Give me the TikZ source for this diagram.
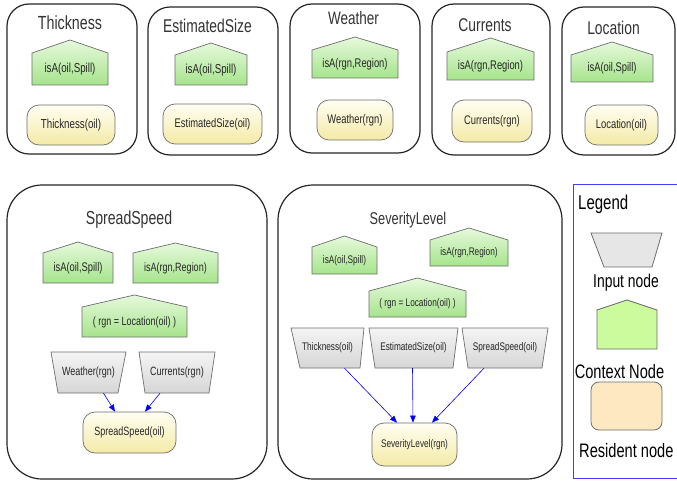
\documentclass[tikz,border=0pt]{standalone}
\usepackage{fontspec}
\setmainfont{Liberation Sans}
\newfontfamily\nf[FakeStretch=0.75]{Liberation Sans}
\usetikzlibrary{arrows.meta}
\definecolor{ctxtop}{HTML}{E6F9DC}
\definecolor{ctxbot}{HTML}{A6E48C}
\definecolor{restop}{HTML}{FFFEF2}
\definecolor{resbot}{HTML}{F4EAA6}
\definecolor{inptop}{HTML}{F4F4F4}
\definecolor{inpbot}{HTML}{D6D6D6}
\definecolor{nodeborder}{HTML}{6E6E6E}
\definecolor{legctx}{HTML}{CCFB9E}
\definecolor{legres}{HTML}{FDE8C2}
\definecolor{leginp}{HTML}{E6E6E6}
\definecolor{legblue}{HTML}{4040F0}
\definecolor{txt}{HTML}{262626}
\newcommand{\myfs}[1]{\fontsize{#1}{#1}\selectfont}
\tikzset{
  panel/.style={draw=black!85, line width=1.2pt, rounded corners=#1},
  ctxshape/.style={draw=nodeborder, line width=0.7pt, top color=ctxtop, bottom color=ctxbot},
  inpshape/.style={draw=nodeborder, line width=0.7pt, top color=inptop, bottom color=inpbot},
  resshape/.style={draw=nodeborder, line width=0.7pt, top color=restop, bottom color=resbot, rounded corners=12pt, inner sep=0pt, text=txt},
  lbl/.style={inner sep=0pt, text=txt},
  ttl/.style={inner sep=0pt, anchor=base, text=black!80, font=\nf\myfs{#1}},
  dep/.style={draw=blue, line width=0.6pt, -{Triangle[length=7pt,width=5.5pt]}},
}
\newcommand{\ctx}[8]{%
  \path[ctxshape] (#2,#6) -- (#2,#5) -- ({(#2+#3)/2},#4) -- (#3,#5) -- (#3,#6) -- cycle;
  \node[lbl, font=\nf\myfs{#8}] (#1) at ({(#2+#3)/2},{(#5+#6)/2}) {#7};}
\newcommand{\inp}[9]{%
  \path[inpshape] (#2,#6) -- (#3,#6) -- (#5,#7) -- (#4,#7) -- cycle;
  \node[lbl, font=\nf\myfs{#9}, minimum width={#5-#4}, minimum height={#7-#6}] (#1) at ({(#2+#3)/2},{(#6+#7)/2}) {#8};}
\newcommand{\res}[7]{%
  \node[resshape, font=\nf\myfs{#7}, minimum width={#3-#2}, minimum height={#5-#4}] (#1) at ({(#2+#3)/2},{(#4+#5)/2}) {#6};}
\begin{document}
\begin{tikzpicture}[x=1pt, y=-1pt]
\useasboundingbox (0,0) rectangle (677,481);
\fill[white] (0,0) rectangle (677,481);
% ---------- top row panels ----------
\draw[panel=22pt] (7,4) rectangle (137,154);
\draw[panel=22pt] (148,7) rectangle (278,155);
\draw[panel=22pt] (290,4) rectangle (420,153);
\draw[panel=22pt] (432,4) rectangle (550,155);
\draw[panel=22pt] (562,7) rectangle (675,155);
\node[ttl=19] (t1) at (70,30) {Thickness};
\node[ttl=18.5] (t2) at (207.5,33) {EstimatedSize};
\node[ttl=18] (t3) at (353.5,25) {Weather};
\node[ttl=18.5] (t4) at (485,32) {Currents};
\node[ttl=18.5] (t5) at (613.5,35) {Location};
\ctx{c1}{32}{108}{40}{53}{85}{isA(oil,Spill)}{13}
\ctx{c2}{175}{247}{43}{55}{85}{isA(oil,Spill)}{13}
\ctx{c3}{312}{398}{37}{50}{78}{isA(rgn,Region)}{12.5}
\ctx{c4}{447}{534}{38}{52}{80}{isA(rgn,Region)}{12.5}
\ctx{c5}{571}{653}{42}{55}{82}{isA(oil,Spill)}{12.5}
\res{r1}{27}{115}{105}{145}{Thickness(oil)}{13}
\res{r2}{163}{262}{104}{144}{EstimatedSize(oil)}{12.5}
\res{r3}{317}{393}{100}{140}{Weather(rgn)}{12.5}
\res{r4}{452}{532}{100}{142}{Currents(rgn)}{12.5}
\res{r5}{585}{658}{105}{145}{Location(oil)}{12.5}
% ---------- SpreadSpeed ----------
\draw[panel=35pt] (7,185) rectangle (267,479);
\node[ttl=18.8] (t6) at (129,225) {SpreadSpeed};
\ctx{c6}{43}{113}{242}{253}{283}{isA(oil,Spill)}{12.5}
\ctx{c7}{133}{218}{243}{253}{283}{isA(rgn,Region)}{12}
\ctx{c8}{82}{187}{295}{307}{337}{( rgn = Location(oil) )}{12}
\inp{i6a}{51}{126}{58}{118}{352}{393}{Weather(rgn)}{12}
\inp{i6b}{139}{215}{145}{209}{352}{393}{Currents(rgn)}{12}
\res{r6}{83}{176}{412}{453}{SpreadSpeed(oil)}{12}
\draw[dep] ([xshift=15pt]i6a.south) -- ([xshift=-14.5pt]r6.north);
\draw[dep] ([xshift=-17pt]i6b.south) -- ([xshift=15.5pt]r6.north);
% ---------- SeverityLevel ----------
\draw[panel=35pt] (278,185) rectangle (562,479);
\node[ttl=17] (t7) at (408,224) {SeverityLevel};
\ctx{c9}{312}{377}{236}{247}{274}{isA(oil,Spill)}{11}
\ctx{c10}{430}{508}{228}{240}{266}{isA(rgn,Region)}{11}
\ctx{c11}{369}{466}{278}{291}{317}{( rgn = Location(oil) )}{11}
\inp{i7a}{291}{364}{300}{360}{328}{368}{Thickness(oil)}{11}
\inp{i7b}{369}{458}{375}{453}{328}{368}{EstimatedSize(oil)}{11}
\inp{i7c}{462}{548}{468}{542}{328}{368}{SpreadSpeed(oil)}{11}
\res{r7}{372}{457}{423}{466}{SeverityLevel(rgn)}{11}
\draw[dep] ([xshift=17pt]i7a.south) -- ([xshift=-17.5pt]r7.north);
\draw[dep] ([xshift=-1pt]i7b.south) -- ([xshift=-1.5pt]r7.north);
\draw[dep] ([xshift=-21pt]i7c.south) -- ([xshift=17.5pt]r7.north);
% ---------- Legend ----------
\draw[legblue, line width=1pt] (573,185) rectangle (690,478);
\node[inner sep=0pt, anchor=base west, font=\nf\myfs{20}] (lg) at (578,210) {Legend};
\path[draw=nodeborder, line width=0.8pt, fill=leginp] (591,233) -- (662,233) -- (652,267) -- (604,267) -- cycle;
\node[inner sep=0pt, anchor=base, font=\nf\myfs{18.5}] (lgi) at (626,287) {Input node};
\path[draw=nodeborder, line width=0.8pt, fill=legctx] (597,349) -- (597,310) -- (627,300) -- (657,310) -- (657,349) -- cycle;
\node[inner sep=0pt, anchor=base, font=\nf\myfs{19.5}] (lgc) at (619.5,378) {Context Node};
\node[draw=nodeborder, line width=0.8pt, fill=legres, rounded corners=8pt, minimum width=71pt, minimum height=48pt, inner sep=0pt] (lgr) at (626.5,406) {};
\node[inner sep=0pt, anchor=base west, font=\nf\myfs{19.5}] (lgrt) at (579,457) {Resident node};
\end{tikzpicture}
\end{document}
